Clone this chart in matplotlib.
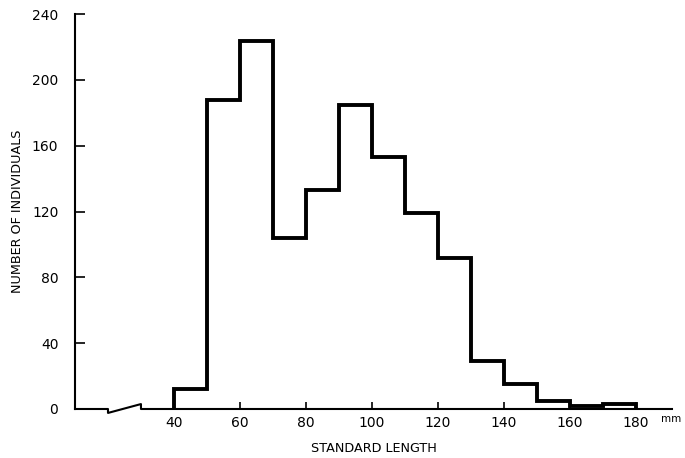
import numpy as np
import matplotlib
matplotlib.use('Agg')
import matplotlib.pyplot as plt

# standard length classes (mm) and counts
edges = [40, 50, 60, 70, 80, 90, 100, 110, 120, 130, 140, 150, 160, 170, 180]
counts = [12, 188, 224, 104, 133, 185, 153, 119, 92, 29, 15, 5, 2, 3]
x_ticks = [40, 60, 80, 100, 120, 140, 160, 180]
y_ticks = [0, 40, 80, 120, 160, 200, 240]

plt.rcParams['font.family'] = ['DejaVu Sans']

fig = plt.figure(figsize=(6.85, 4.58), dpi=100)
ax = fig.add_axes([0.1095, 0.107, 0.8715, 0.862])

ax.stairs(counts, edges, baseline=0, color='black', linewidth=2.8, joinstyle='miter')

# x axis baseline with a break
bx = [10, 20, 20, 30, 30, 191]
by = [0, 0, -2.4, 3, 0, 0]
ax.plot(bx, by, color='black', linewidth=1.5, clip_on=False)

ax.set_xlim(10, 191)
ax.set_ylim(0, 240)
for s in ['top', 'right', 'bottom']:
    ax.spines[s].set_visible(False)
ax.spines['left'].set_linewidth(1.5)

ax.set_xticks(x_ticks)
ax.set_yticks(y_ticks)
ax.tick_params(axis='x', direction='in', length=5, width=1.2, pad=5, labelsize=10)
ax.tick_params(axis='y', direction='in', length=7, width=1.2, pad=12, labelsize=10)

ax.text(187.8, -3, 'mm', fontsize=7.5, va='top', ha='left')
ax.set_xlabel('STANDARD LENGTH', fontsize=9.2, labelpad=9)
ax.set_ylabel('NUMBER OF INDIVIDUALS', fontsize=9.2, labelpad=6)

fig.savefig('out.png', dpi=100)
